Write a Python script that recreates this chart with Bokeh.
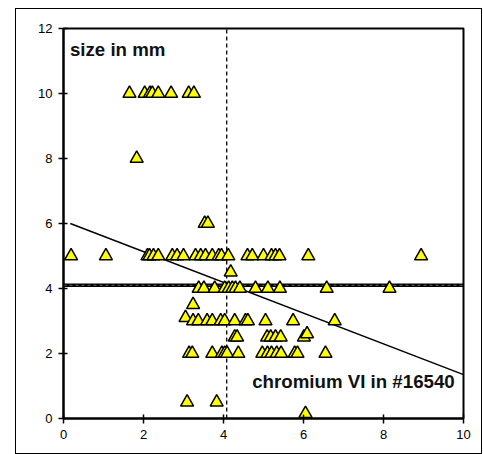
from bokeh.plotting import figure
from bokeh.models import Label, FixedTicker, InlineStyleSheet
from bokeh.embed import file_html
from bokeh.resources import INLINE

# ---- data ----
chromium_vi = [
    1.65, 2.03, 2.16, 2.22, 2.37, 2.69, 3.13, 3.26,            # size 10
    1.83,                                                      # size 8
    3.53, 3.61,                                                # size 6
    0.19, 1.06, 2.10, 2.15, 2.25, 2.37, 2.72, 2.84, 3.00, 3.30,
    3.43, 3.55, 3.72, 3.88, 3.95, 4.12, 4.60, 4.72, 5.00, 5.20,
    5.30, 5.40, 6.12, 8.94,                                    # size 5
    4.18,                                                      # size 4.5
    3.38, 3.51, 3.78, 4.03, 4.13, 4.22, 4.30, 4.41, 4.80, 5.11,
    5.41, 6.58, 8.15,                                          # size 4
    3.24,                                                      # size 3.5
    3.05,                                                      # size 3.1
    3.24, 3.37, 3.59, 3.72, 3.93, 4.03, 4.28, 4.55, 4.61, 5.05,
    5.74, 6.78,                                                # size 3
    4.28, 4.34, 5.09, 5.18, 5.30, 5.43, 6.01,                  # size 2.5
    6.09,                                                      # size 2.6
    3.14, 3.22, 3.72, 3.96, 4.03, 4.09, 4.37, 4.97, 5.10, 5.20,
    5.33, 5.44, 5.78, 5.85, 6.55,                              # size 2
    3.09, 3.83,                                                # size 0.5
    6.05,                                                      # size 0.15
]
size_mm = (
    [10.0] * 8 + [8.0] + [6.0] * 2 + [5.0] * 24 + [4.5] + [4.0] * 13 +
    [3.5] + [3.1] + [3.0] * 12 + [2.5] * 7 + [2.6] + [2.0] * 15 +
    [0.5] * 2 + [0.15]
)

trend_x = [0.17, 10.0]
trend_y = [6.0, 1.35]
mean_chromium = 4.08
mean_size = 4.10

x_ticks = [0, 2, 4, 6, 8, 10]
y_ticks = [0, 2, 4, 6, 8, 10, 12]
x_min, x_max = 0, 10
y_min, y_max = 0, 12

FONT = "Liberation Sans"

outer_box_css = InlineStyleSheet(css="""
:host { position: relative; }
:host::after {
  content: ""; position: absolute; left: 15px; top: 8px;
  width: 467px; height: 446px; border: 1px solid black;
  box-sizing: border-box; pointer-events: none;
}
""")

p = figure(width=483, height=454, x_range=(x_min, x_max), y_range=(y_min, y_max),
           output_backend="svg", toolbar_location=None,
           min_border_left=63, min_border_right=20,
           min_border_top=28, min_border_bottom=36,
           stylesheets=[outer_box_css])
p.background_fill_color = "white"
p.border_fill_color = "white"
p.xgrid.visible = False
p.ygrid.visible = False
p.outline_line_color = "black"
p.outline_line_width = 2

for ax in (p.xaxis, p.yaxis):
    ax.axis_line_width = 2
    ax.axis_line_color = "black"
    ax.major_tick_line_color = "black"
    ax.major_tick_line_width = 1.5
    ax.major_tick_in = 4
    ax.major_tick_out = 5
    ax.minor_tick_line_color = None
    ax.major_label_text_font = FONT
    ax.major_label_text_font_size = "13px"
    ax.major_label_text_color = "black"
    ax.major_label_standoff = 6
p.xaxis.ticker = FixedTicker(ticks=x_ticks)
p.yaxis.ticker = FixedTicker(ticks=y_ticks)

# mean lines (drawn beneath the points)
p.line([mean_chromium, mean_chromium], [y_min, y_max], line_color="black",
       line_width=1.3, line_dash="4 3")
p.line([x_min, x_max], [mean_size, mean_size], line_color="black", line_width=3.6)
p.line([x_min, x_max], [mean_size, mean_size], line_color="#666666",
       line_width=1, line_dash="3 3")

# trend line
p.line(trend_x, trend_y, line_color="black", line_width=1.5)

# points
p.scatter(chromium_vi, size_mm, marker="triangle", size=13,
          fill_color="#FFFF00", line_color="black", line_width=1.5)

p.add_layout(Label(x=0.16, y=11.34, text="size in mm", text_font=FONT,
                   text_font_style="bold", text_font_size="18.7px",
                   text_color="#111111", text_baseline="alphabetic"))
p.add_layout(Label(x=9.78, y=1.14, text="chromium VI in #16540", text_font=FONT,
                   text_font_style="bold", text_font_size="18.7px",
                   text_color="#111111", text_align="right",
                   text_baseline="alphabetic"))

open("out.html", "w").write(file_html(p, INLINE))
